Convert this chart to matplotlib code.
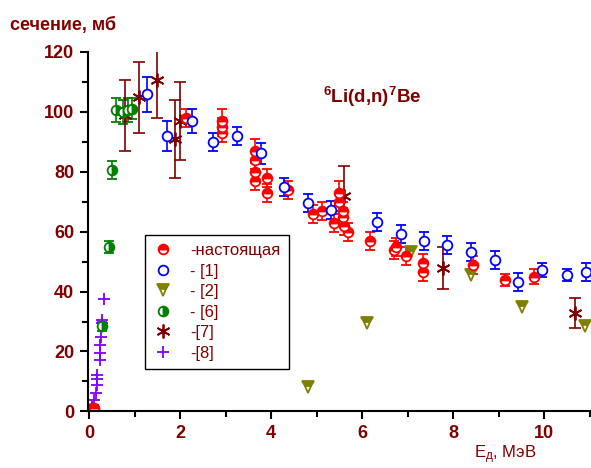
import matplotlib
matplotlib.use("Agg")
import matplotlib.pyplot as plt
from matplotlib.ticker import MultipleLocator

plt.rcParams['font.family'] = ['Liberation Sans', 'DejaVu Sans']
plt.rcParams['mathtext.fontset'] = 'custom'
plt.rcParams['mathtext.rm'] = 'Liberation Sans'
plt.rcParams['mathtext.bf'] = 'Liberation Sans:bold'
plt.rcParams['mathtext.default'] = 'regular'

DR = '#800000'

# present work
red_x = [0.06, 0.10, 2.13, 2.92, 2.92, 2.92, 3.65, 3.65, 3.65, 3.65, 3.91, 3.91, 4.37,
         4.93, 5.12, 5.38, 5.49, 5.50, 5.58, 5.58, 5.60, 5.69, 6.18, 6.69, 6.74, 6.97,
         7.34, 7.34, 8.44, 9.14, 9.78]
red_y = [1.2, 1.0, 98.0, 97.0, 95.0, 93.0, 87.0, 84.0, 80.0, 77.0, 78.0, 73.0, 74.0,
         66.0, 67.0, 63.0, 73.0, 70.0, 67.0, 65.0, 62.0, 60.0, 57.0, 54.0, 55.0, 52.0,
         49.5, 46.5, 49.0, 44.0, 45.0]
red_e = [1, 1, 3, 4, 3, 3, 4, 3, 3, 3, 3, 3, 3,
         3, 3, 3, 4, 3, 3, 3, 3, 3, 3, 3, 3, 3,
         3, 3, 3, 2, 2.5]

# [1]
blue_x = [1.27, 1.71, 2.26, 2.73, 3.25, 3.78, 4.29, 4.81, 5.32, 6.33, 6.86, 7.36, 7.87,
          8.40, 8.92, 9.43, 9.96, 10.50, 10.92]
blue_y = [105.8, 91.8, 96.8, 89.8, 91.8, 86.2, 74.8, 69.5, 67.2, 63.2, 59.2, 56.8, 55.5,
          53.2, 50.5, 43.2, 47.2, 45.5, 46.5]
blue_e = [6, 5, 4, 3, 3, 3.5, 3, 3, 3, 3, 3, 3, 3, 3, 3, 3, 2.5, 2, 3]

# [2]
ol_x = [4.81, 6.11, 7.08, 8.40, 9.52, 10.90]
ol_y = [8.2, 29.5, 53.2, 45.5, 34.8, 28.5]

# [6]
gr_x = [0.29, 0.44, 0.51, 0.60, 0.75, 0.85, 0.95]
gr_y = [28.5, 55.0, 80.5, 100.5, 100.0, 100.5, 101.0]
gr_e = [1.5, 2, 3, 4, 4, 4, 3.5]

# [7]
st_x = [0.79, 1.10, 1.49, 1.89, 2.00, 5.60, 7.78, 10.68]
st_y = [98.8, 104.8, 110.8, 90.8, 96.8, 71.8, 47.8, 32.8]
st_e = [12, 12, 13, 13, 13, 10, 7, 5]

# [8]
pu_x = [0.07, 0.11, 0.15, 0.18, 0.18, 0.18, 0.24, 0.24, 0.24, 0.26, 0.29, 0.29, 0.34]
pu_y = [1.5, 3.8, 6.2, 8.8, 10.8, 12.2, 17.2, 19.5, 22.2, 24.8, 29.5, 30.5, 37.5]

labels = ['-настоящая', '- [1]', '- [2]', '- [6]', '-[7]', '-[8]']

fig = plt.figure(figsize=(5.91, 4.68), dpi=100)
ax = fig.add_axes([0.149, 0.121, 0.849, 0.768])

ms = 7
h1 = ax.errorbar(red_x, red_y, yerr=red_e, fmt='o', color='red', ms=ms, mfc='red',
                 mfcalt='white', fillstyle='top', mec='red', mew=1.3, capsize=3.5,
                 elinewidth=1.2, capthick=1.2, label=labels[0])
h2 = ax.errorbar(blue_x, blue_y, yerr=blue_e, fmt='o', color='blue', ms=ms, mfc='white',
                 mec='blue', mew=1.3, capsize=3.5, elinewidth=1.2, capthick=1.2,
                 label=labels[1])
h3, = ax.plot(ol_x, ol_y, 'v', color='#808000', ms=8, mfc='#808000', mfcalt='white',
              fillstyle='top', mec='#808000', mew=1.3, label=labels[2])
h4 = ax.errorbar(gr_x, gr_y, yerr=gr_e, fmt='o', color='green', ms=ms, mfc='green',
                 mfcalt='white', fillstyle='right', mec='green', mew=1.3, capsize=3.5,
                 elinewidth=1.2, capthick=1.2, label=labels[3])
h5 = ax.errorbar(st_x, st_y, yerr=st_e, fmt='none', ecolor=DR, capsize=4,
                 elinewidth=1.2, capthick=1.2)
h5m, = ax.plot(st_x, st_y, ls='none', marker=(6, 2, 0), color=DR, ms=10, mew=1.3,
               label=labels[4])
h6, = ax.plot(pu_x, pu_y, '+', color='#8000ff', ms=9, mew=1.3, label=labels[5])

ax.set_xlim(-0.02, 11.0)
ax.set_ylim(0, 120)
ax.xaxis.set_major_locator(MultipleLocator(2))
ax.xaxis.set_minor_locator(MultipleLocator(1))
ax.yaxis.set_major_locator(MultipleLocator(20))
ax.yaxis.set_minor_locator(MultipleLocator(10))
for s in ['top', 'right']:
    ax.spines[s].set_visible(False)
for s in ['left', 'bottom']:
    ax.spines[s].set_linewidth(1.5)
ax.tick_params(which='major', length=6, width=1.5, labelsize=13, labelcolor=DR, pad=4)
ax.tick_params(which='minor', length=4, width=1.5)
for lab in ax.get_xticklabels() + ax.get_yticklabels():
    lab.set_fontweight('bold')

fig.text(10/591, 1 - 25/468, 'сечение, мб', color=DR, fontsize=13, fontweight='bold',
         va='center', ha='left')
fig.text(323/591, 1 - 97/468, r'$^{\mathbf{6}}$Li(d,n)$^{\mathbf{7}}$Be', color=DR,
         fontsize=13.5, fontweight='bold', va='center', ha='left')
fig.text(474/591, 1 - 455/468, r'E$_{д}$, МэВ', color=DR, fontsize=12,
         va='center', ha='left')

leg = ax.legend(handles=[h1[0], h2[0], h3, h4[0], h5m, h6], labels=labels,
                loc='upper left', bbox_to_anchor=(0.097, 0.514), fontsize=12,
                frameon=True, fancybox=False, edgecolor='black', framealpha=1,
                handlelength=1.2, handletextpad=1.0, labelspacing=0.33,
                borderpad=0.5, labelcolor=DR)
leg.get_frame().set_linewidth(1.0)

fig.savefig('out.png', dpi=100)
